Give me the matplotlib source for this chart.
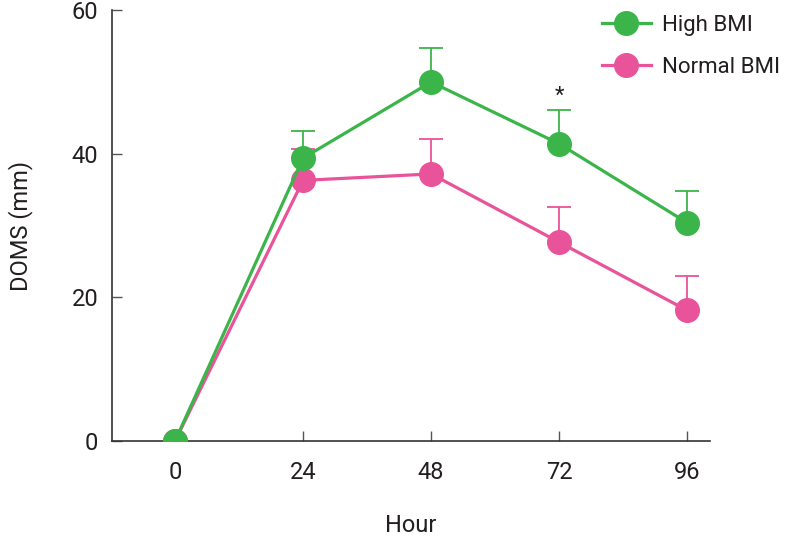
import matplotlib.pyplot as plt

plt.rcParams['font.family'] = ['Roboto', 'DejaVu Sans']

hours = [0, 24, 48, 72, 96]
high_bmi = [0, 39.4, 50.0, 41.4, 30.4]
high_err = [0, 3.8, 4.7, 4.7, 4.4]
normal_bmi = [0, 36.3, 37.2, 27.7, 18.2]
normal_err = [0, 4.4, 4.8, 4.9, 4.8]

green = "#3BB54A"
pink = "#E9539A"

fig = plt.figure(figsize=(7.89, 5.36), dpi=100)
ax = fig.add_axes([0.142, 0.177, 0.758, 0.804])

# upper error bars only
for vals, errs, col in [(normal_bmi, normal_err, pink), (high_bmi, high_err, green)]:
    eb = ax.errorbar(hours[1:], vals[1:], yerr=[[0] * 4, errs[1:]], fmt="none",
                     ecolor=col, elinewidth=1.3, capsize=8.5, capthick=1.3, zorder=1)
    eb[1][0].set_visible(False)

ax.plot(hours, normal_bmi, "-o", color=pink, lw=2.3, markersize=17, label="Normal BMI", zorder=2)
ax.plot(hours, high_bmi, "-o", color=green, lw=2.3, markersize=17, label="High BMI", zorder=3)

ax.text(72, 48.0, "*", ha="center", va="center", fontsize=16, color="#231f20")

ax.set_xlim(-11.8, 100.3)
ax.set_ylim(0, 60)
ax.set_xticks(hours)
ax.set_yticks([0, 20, 40, 60])
ax.tick_params(direction="in", length=7.5, width=1, color="#555555",
               labelsize=17, labelcolor="#231f20", pad=14)
ax.tick_params(axis="y", pad=10)
for s in ["top", "right"]:
    ax.spines[s].set_visible(False)
for s in ["left", "bottom"]:
    ax.spines[s].set_color("#333333")
    ax.spines[s].set_linewidth(1.2)

ax.set_xlabel("Hour", fontsize=17, color="#231f20", labelpad=22)
ax.set_ylabel("DOMS (mm)", fontsize=17, color="#231f20", labelpad=28)

handles, labels = ax.get_legend_handles_labels()
ax.legend(handles[::-1], labels[::-1], loc="upper right", bbox_to_anchor=(1.15, 1.035),
          frameon=False, fontsize=16, handlelength=2.2, labelspacing=0.95,
          handletextpad=0.5, labelcolor="#231f20")

fig.savefig("out.png", dpi=100)
